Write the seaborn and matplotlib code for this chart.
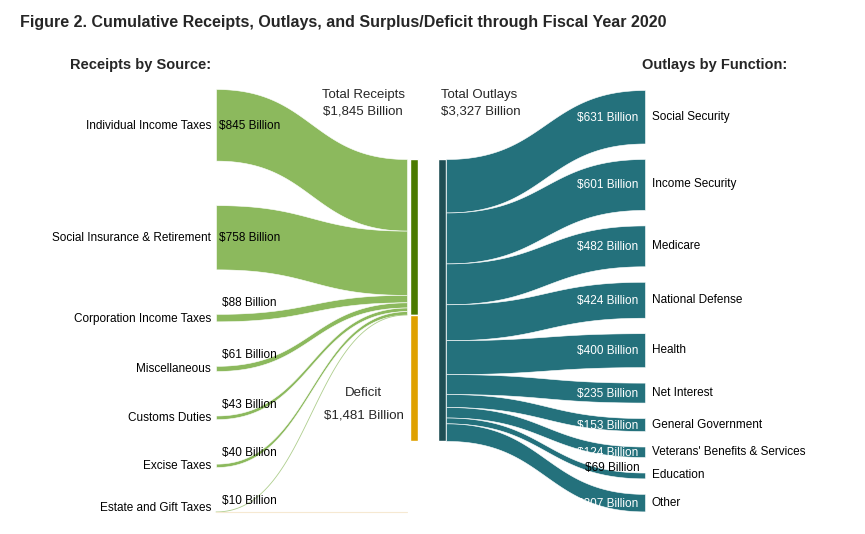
import numpy as np
import matplotlib
matplotlib.use("Agg")
import matplotlib.pyplot as plt
import seaborn as sns

# ==========================
# Data (billions of dollars)
# ==========================

receipt_sources = ["Individual Income Taxes", "Social Insurance & Retirement",
                   "Corporation Income Taxes", "Miscellaneous", "Customs Duties",
                   "Excise Taxes", "Estate and Gift Taxes"]
receipt_values = [845, 758, 88, 61, 43, 40, 10]

outlay_functions = ["Social Security", "Income Security", "Medicare", "National Defense",
                    "Health", "Net Interest", "General Government",
                    "Veterans' Benefits & Services", "Education", "Other"]
outlay_values = [631, 601, 482, 424, 400, 235, 153, 124, 69, 207]

total_receipts = 1845
total_outlays = 3327
deficit = 1481

# ==========================
# Style
# ==========================

sns.set_theme(style="white")
plt.rcParams["font.family"] = ["Liberation Sans", "DejaVu Sans"]

green = "#8CB95D"
green_dark = "#4B7A00"
yellow = "#DFA100"
teal = "#24717C"
teal_dark = "#1E4E54"

fig = plt.figure(figsize=(8.65, 5.34), dpi=100)
ax = fig.add_axes([0, 0, 1, 1])
ax.set_xlim(0, 865)
ax.set_ylim(534, 0)
ax.axis("off")

scale = 282 / total_outlays   # px per billion
bar_top = 159
fs = 8.5


def band(x0, y0a, y0b, x1, y1a, y1b, color):
    t = np.linspace(0, 1, 100)
    s = 3 * t**2 - 2 * t**3
    xm = (x0 + x1) / 2
    bx = (1 - t)**3 * x0 + 3 * (1 - t)**2 * t * xm + 3 * (1 - t) * t**2 * xm + t**3 * x1
    top = y0a + (y1a - y0a) * s
    bot = y0b + (y1b - y0b) * s
    if y0b - y0a > 3:
        ax.fill_between(bx, top, bot, color=color, lw=0.4, edgecolor="white")
    else:
        # very thin flow: draw as a faint line
        ax.plot(bx, (top + bot) / 2, color=color, lw=0.6, alpha=0.7)


# ==========================
# Receipts side
# ==========================

left_x0, left_x1 = 216, 407
gap_left = 44.5
y_src = 89
y_dst = bar_top
for name, v in zip(receipt_sources, receipt_values):
    h = v * scale
    band(left_x0, y_src, y_src + h, left_x1, y_dst, y_dst + h, green)
    yc = y_src + h / 2
    name_y = yc + 1 if h > 2 else yc - 4
    ax.text(211, name_y, name, ha="right", va="center", fontsize=fs, color="black")
    if h > 20:
        ax.text(219, yc + 1, f"${v} Billion", ha="left", va="center", fontsize=fs, color="black")
    else:
        ax.text(222, y_src - 11, f"${v} Billion", ha="left", va="center", fontsize=fs, color="black")
    y_src += h + gap_left
    y_dst += h

# faint deficit baseline
ax.plot([216, 407], [511.5, 511.5], color="#F6E9D2", lw=0.8)

# receipts / deficit bar
rec_h = total_receipts * scale
def_h = deficit * scale
ax.bar(413.5, rec_h, width=8, bottom=bar_top, color=green_dark, align="center")
ax.bar(413.5, def_h, width=8, bottom=bar_top + rec_h, color=yellow, align="center")

# outlays bar
out_h = total_outlays * scale
ax.bar(442, out_h, width=8, bottom=bar_top, color=teal_dark, align="center")

# ==========================
# Outlays side
# ==========================

right_x0, right_x1 = 446, 645
gap_right = 15.5
y_src = bar_top
y_dst = 90
for name, v in zip(outlay_functions, outlay_values):
    h = v * scale
    band(right_x0, y_src, y_src + h, right_x1, y_dst, y_dst + h, teal)
    yc = y_dst + h / 2
    ax.text(652, yc, name, ha="left", va="center", fontsize=fs, color="black")
    if h > 8:
        ax.text(638, yc + 1, f"${v} Billion", ha="right", va="center", fontsize=fs, color="white")
    else:
        ax.text(640, y_dst - 5, f"${v} Billion", ha="right", va="center", fontsize=fs, color="black")
    y_src += h
    y_dst += h + gap_right

# ==========================
# Titles and totals
# ==========================

ax.text(20, 22, "Figure 2. Cumulative Receipts, Outlays, and Surplus/Deficit through Fiscal Year 2020",
        ha="left", va="center", fontsize=11.5, fontweight="bold")
ax.text(70, 65, "Receipts by Source:", ha="left", va="center", fontsize=10.5, fontweight="bold")
ax.text(642, 65, "Outlays by Function:", ha="left", va="center", fontsize=10.5, fontweight="bold")

ax.text(363, 95, "Total Receipts", ha="center", va="center", fontsize=9.5)
ax.text(363, 111, f"${total_receipts:,} Billion", ha="center", va="center", fontsize=9.5)
ax.text(441, 95, "Total Outlays", ha="left", va="center", fontsize=9.5)
ax.text(441, 111, f"${total_outlays:,} Billion", ha="left", va="center", fontsize=9.5)
ax.text(363, 393, "Deficit", ha="center", va="center", fontsize=9.5)
ax.text(364, 415, f"${deficit:,} Billion", ha="center", va="center", fontsize=9.5)

plt.savefig("out.png", dpi=100)
plt.close()
